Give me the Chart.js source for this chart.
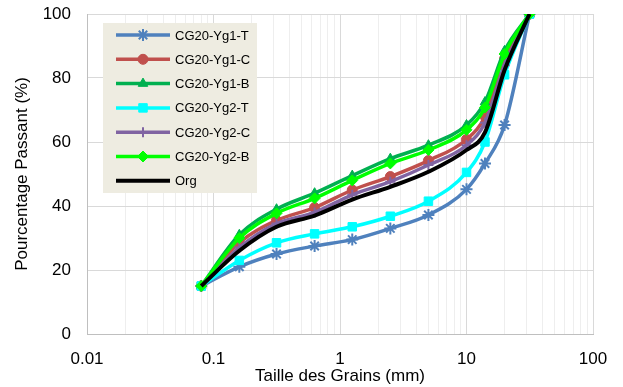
<!DOCTYPE html>
<html>
<head>
  <meta charset="UTF-8" />
  <title>Courbes granulometriques</title>
  <script src="https://cdn.jsdelivr.net/npm/chart.js"></script>
  <style>
    html, body { margin: 0; padding: 0; background: #fff; }
    #wrap { width: 623px; height: 387px; }
  </style>
</head>
<body>
  <div id="wrap"><canvas id="granChart" width="623" height="387"></canvas></div>

  <script>
    // sieve sizes (mm)
    const sizes = [0.08, 0.16, 0.315, 0.63, 1.25, 2.5, 5, 10, 14, 20, 31.5];

    // percent passing
    const yg1T = [15, 21, 25, 27.5, 29.5, 33, 37.2, 45.2, 53.3, 65.3, 100];
    const yg1C = [15, 28.5, 35.5, 39.5, 45, 49.2, 54.2, 60.8, 68, 86, 100];
    const yg1B = [15, 31, 39, 44, 49.5, 54.8, 59, 65.3, 72.5, 88.5, 100];
    const yg2T = [15, 23, 28.5, 31.3, 33.5, 36.8, 41.5, 50.5, 60, 81, 100];
    const yg2C = [15, 27, 34.5, 38, 43.5, 47.6, 52.8, 59, 66, 84, 100];
    const yg2B = [15, 30, 37.7, 42.4, 48, 53.3, 57.5, 63.8, 70.8, 87.5, 100];
    const org  = [15, 26, 33.5, 37, 42, 46, 50.7, 57.5, 63, 82.5, 100];

    const xTicks = [];
    [0.01, 0.1, 1, 10].forEach(d => {
      for (let m = 1; m < 10; m++) xTicks.push(Number((m * d).toPrecision(2)));
    });
    xTicks.push(100);
    const yTicks = [0, 20, 40, 60, 80, 100];

    const FONT = 'Liberation Sans, Arial, sans-serif';

    function isDecade(v) {
      const l = Math.log10(v);
      return Math.abs(l - Math.round(l)) < 1e-9;
    }

    function series(label, data, color, style, radius, width, order) {
      return {
        label: label,
        data: sizes.map((s, i) => ({ x: s, y: data[i] })),
        borderColor: color,
        backgroundColor: color,
        borderWidth: width,
        pointStyle: style,
        pointRadius: radius,
        pointBorderWidth: style === 'star' || style === 'cross' ? 2 : 1,
        cubicInterpolationMode: 'monotone',
        order: order
      };
    }

    const datasets = [
      series('CG20-Yg1-T', yg1T, '#4F81BD', 'star', 6, 3.5, 7),
      series('CG20-Yg1-C', yg1C, '#C0504D', 'circle', 5, 3.5, 6),
      series('CG20-Yg1-B', yg1B, '#00B050', 'triangle', 5.5, 3.5, 5),
      series('CG20-Yg2-T', yg2T, '#00FFFF', 'rect', 6, 3.5, 4),
      series('CG20-Yg2-C', yg2C, '#8064A2', 'cross', 5, 3.5, 3),
      series('CG20-Yg2-B', yg2B, '#00FF00', 'rectRot', 5.5, 3.5, 2),
      series('Org', org, '#000000', false, 0, 4, 1)
    ];

    // legend box drawn inside the plot, like the original
    const boxLegend = {
      id: 'boxLegend',
      afterDraw(chart) {
        const ctx = chart.ctx;
        const left = 103, top = 23, w = 154, h = 170;
        ctx.save();
        ctx.fillStyle = '#EEECE1';
        ctx.fillRect(left, top, w, h);
        ctx.font = '13px ' + FONT;
        ctx.textBaseline = 'middle';
        chart.data.datasets.forEach((ds, i) => {
          const y = top + 12 + i * 24.3;
          ctx.strokeStyle = ds.borderColor;
          ctx.lineWidth = ds.borderWidth;
          ctx.beginPath();
          ctx.moveTo(116, y);
          ctx.lineTo(170, y);
          ctx.stroke();
          if (ds.pointStyle) {
            ctx.fillStyle = ds.backgroundColor;
            ctx.lineWidth = ds.pointBorderWidth;
            Chart.helpers.drawPoint(ctx, { pointStyle: ds.pointStyle, radius: ds.pointRadius, rotation: 0, borderWidth: ds.pointBorderWidth }, 143, y);
          }
          ctx.fillStyle = '#000';
          ctx.fillText(ds.label, 175, y + 1);
        });
        ctx.restore();
      }
    };

    new Chart(document.getElementById('granChart'), {
      type: 'line',
      data: { datasets: datasets },
      plugins: [boxLegend],
      options: {
        responsive: false,
        animation: false,
        layout: { padding: { top: 14, right: 30, left: 12, bottom: 0 } },
        plugins: {
          legend: { display: false },
          tooltip: { enabled: false }
        },
        scales: {
          x: {
            type: 'logarithmic',
            min: 0.01,
            max: 100,
            afterBuildTicks: scale => { scale.ticks = xTicks.map(v => ({ value: v })); },
            afterFit: scale => {
              scale.height = 53;
              scale.paddingLeft = 0;
              scale.paddingRight = 0;
            },
            ticks: {
              autoSkip: false,
              maxRotation: 0,
              padding: 15,
              color: '#000',
              font: { family: FONT, size: 17 },
              callback: v => isDecade(v) ? String(Number(v.toPrecision(1))) : ''
            },
            grid: {
              color: c => isDecade(c.tick.value) ? '#D9D9D9' : '#EEEEEE',
              lineWidth: 1,
              drawTicks: false
            },
            border: { color: '#BFBFBF', width: 1 },
            title: {
              display: true,
              text: 'Taille des Grains (mm)',
              color: '#000',
              font: { family: FONT, size: 17 },
              padding: { top: -16, bottom: 0 }
            }
          },
          y: {
            min: 0,
            max: 100,
            afterBuildTicks: scale => { scale.ticks = yTicks.map(v => ({ value: v })); },
            afterFit: scale => {
              scale.width = 75;
              scale.paddingTop = 0;
              scale.paddingBottom = 0;
            },
            ticks: {
              padding: 16,
              color: '#000',
              font: { family: FONT, size: 17 }
            },
            grid: { color: '#D9D9D9', lineWidth: 1, drawTicks: false },
            border: { color: '#BFBFBF', width: 1 },
            title: {
              display: true,
              text: 'Pourcentage Passant (%)',
              color: '#000',
              font: { family: FONT, size: 17 },
              padding: { top: 0, bottom: 4 }
            }
          }
        }
      }
    });
  </script>
</body>
</html>
